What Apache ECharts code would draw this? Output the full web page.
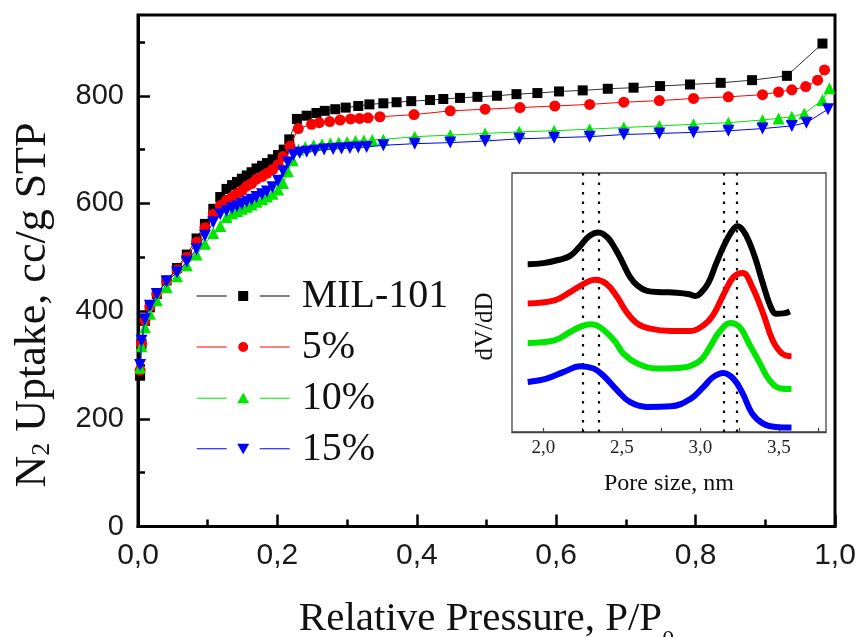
<!DOCTYPE html>
<html>
<head>
<meta charset="utf-8">
<script src="https://cdn.jsdelivr.net/npm/echarts@6/dist/echarts.min.js"></script>
<style>
html,body{margin:0;padding:0;background:#fff;}
#chart{width:858px;height:637px;}
</style>
</head>
<body>
<div id="chart"></div>
<script>
// ---------- Main isotherm data (P/P0 vs N2 uptake) ----------
const seriesNames = ['MIL-101', '5%', '10%', '15%'];

const pMIL = [0.003,0.005,0.010,0.017,0.027,0.041,0.056,0.070,0.084,0.096,0.108,0.118,0.127,0.135,0.142,0.149,0.156,0.163,0.170,0.178,0.185,0.193,0.201,0.209,0.217,0.228,0.242,0.256,0.268,0.283,0.298,0.316,0.332,0.352,0.371,0.392,0.419,0.438,0.462,0.487,0.515,0.543,0.573,0.604,0.638,0.674,0.711,0.749,0.792,0.836,0.881,0.931,0.982];
const uMIL = [280,339,382,407,432,457,480,505,535,562,590,612,627,634,640,646,652,658,665,670,675,682,690,700,719,757,763,768,772,775,778,781,784,786,788,790,792,794,796,798,800,803,805,808,810,813,815,818,821,824,829,837,897];

const p5 = [0.003,0.005,0.010,0.017,0.027,0.041,0.056,0.070,0.084,0.096,0.108,0.118,0.127,0.135,0.142,0.149,0.156,0.163,0.170,0.178,0.185,0.193,0.201,0.208,0.218,0.230,0.249,0.260,0.275,0.290,0.305,0.318,0.330,0.347,0.396,0.448,0.498,0.548,0.598,0.648,0.697,0.748,0.797,0.847,0.896,0.919,0.938,0.958,0.975,0.985];
const u5 = [290,340,383,408,432,456,477,500,528,555,580,596,606,612,618,624,632,637,645,650,656,663,672,687,706,739,747,750,752,755,757,758,759,761,765,772,775,778,781,784,788,791,795,798,802,807,811,817,829,848];

const p10 = [0.003,0.005,0.010,0.017,0.027,0.041,0.056,0.070,0.084,0.096,0.108,0.118,0.127,0.135,0.142,0.149,0.156,0.163,0.170,0.178,0.185,0.193,0.201,0.208,0.215,0.222,0.230,0.240,0.252,0.264,0.276,0.288,0.300,0.312,0.324,0.336,0.352,0.397,0.448,0.498,0.547,0.597,0.648,0.697,0.748,0.797,0.847,0.896,0.919,0.938,0.956,0.982,0.992];
const u10 = [295,335,370,395,420,445,465,485,505,525,545,558,575,582,586,590,594,598,603,608,613,618,626,638,660,680,700,705,708,710,712,713,714,716,717,718,719,724,727,730,733,735,738,741,744,747,750,755,758,761,767,792,814];

const p15 = [0.003,0.005,0.010,0.017,0.027,0.041,0.056,0.070,0.084,0.096,0.108,0.118,0.127,0.135,0.142,0.149,0.156,0.163,0.170,0.178,0.185,0.193,0.201,0.208,0.215,0.223,0.232,0.242,0.254,0.267,0.280,0.292,0.304,0.316,0.328,0.352,0.397,0.448,0.498,0.547,0.597,0.648,0.697,0.748,0.797,0.847,0.896,0.938,0.959,0.990];
const u15 = [300,345,385,410,432,455,472,492,515,540,565,580,586,591,595,599,603,607,612,617,622,630,642,660,676,690,694,696,698,700,701,702,703,704,705,708,711,713,716,720,722,724,728,730,732,735,739,744,750,775];

// ---------- Inset: pore size distribution (arbitrary offset units) ----------
const dMIL = [1.90,2.00,2.10,2.17,2.23,2.29,2.35,2.41,2.46,2.50,2.55,2.60,2.66,2.75,2.85,2.93,2.97,3.00,3.05,3.10,3.15,3.20,3.235,3.27,3.31,3.35,3.38,3.42,3.45,3.48,3.53,3.57];
const vMIL = [64.8,65.2,66.5,68,71.5,75.5,77,75,70.5,66,60,56.5,54.5,54,53.8,53.2,52.5,53.5,57.5,65,72,77.5,79.4,78,73.5,67,61,53,48,45.7,45.8,46.5];

const d5 = [1.90,2.07,2.17,2.26,2.33,2.40,2.47,2.53,2.60,2.68,2.81,2.94,3.02,3.08,3.15,3.21,3.27,3.33,3.40,3.46,3.52,3.58];
const v5 = [49.6,50.8,54,57.3,58.8,57.3,52.1,46.3,41.8,39.9,39,39,41.2,45,53.4,59.8,61.4,56,45.7,35.4,30.3,29.2];

const d10 = [1.90,2.07,2.17,2.23,2.30,2.36,2.45,2.51,2.60,2.72,2.89,3.00,3.06,3.12,3.19,3.25,3.31,3.38,3.44,3.51,3.58];
const v10 = [34.4,35.4,38.6,40.5,41.6,40.5,35.4,30.3,26.4,24.5,24.9,27.7,32.8,38.6,42.1,40.5,34.1,26.4,20,16.8,16.6];

const d15 = [1.90,2.02,2.13,2.235,2.32,2.38,2.47,2.55,2.66,2.81,2.94,3.02,3.08,3.146,3.21,3.27,3.33,3.40,3.48,3.58];
const v15 = [19.3,20.6,23.2,25.4,24.5,21.9,16.1,11.6,9.7,9.9,12.9,17.4,21.2,22.8,20.6,14.8,7.1,3.2,1.9,1.7];

const poreMarkers = [2.245, 2.35, 3.15, 3.235];

// ---------- Tick values ----------
const xMajorTicks = [0, 0.2, 0.4, 0.6, 0.8, 1.0];
const xMinorTicks = [0.1, 0.3, 0.5, 0.7, 0.9];
const yMajorTicks = [0, 200, 400, 600, 800];
const yMinorTicks = [100, 300, 500, 700, 900];
const insetLabelTicks = [2.0, 2.5, 3.0, 3.5];
const insetTicks = [2.0, 2.25, 2.5, 2.75, 3.0, 3.25, 3.5, 3.75];

const colors = ['#000000', '#ff0000', '#00e600', '#0000ff'];
const SERIF = '"Liberation Serif", "Times New Roman", serif';
const SANS = '"Liberation Sans", Arial, sans-serif';

const zip = (a, b) => a.map((x, i) => [x, b[i]]);
const comma1 = v => v.toFixed(1).replace('.', ',');

const downTri = 'path://M0,0 L12,0 L6,10.4 Z';
const legendIcons = [
  'path://M0,5.5H30V6.5H0Z M41.5,1H51.5V11H41.5Z M63,5.5H93V6.5H63Z',
  'path://M0,5.5H30V6.5H0Z M41.5,6A5,5,0,1,1,51.5,6A5,5,0,1,1,41.5,6Z M63,5.5H93V6.5H63Z',
  'path://M0,5.5H30V6.5H0Z M46.5,0.5L52.5,11L40.5,11Z M63,5.5H93V6.5H63Z',
  'path://M0,5.5H30V6.5H0Z M40.5,1L52.5,1L46.5,11.5Z M63,5.5H93V6.5H63Z'
];

const mainAxisLine = {show: true, lineStyle: {color: '#000', width: 3}};

const option = {
  animation: false,
  backgroundColor: '#ffffff',
  grid: [
    {left: 138, right: 23, top: 15, bottom: 110.5, show: true, borderColor: '#000', borderWidth: 3,
      backgroundColor: 'transparent', containLabel: false, outerBoundsMode: 'none'},
    {left: 512, right: 32, top: 173, bottom: 205, show: true, borderColor: '#444', borderWidth: 1.3,
      backgroundColor: '#fff', containLabel: false, outerBoundsMode: 'none'}
  ],
  legend: {
    orient: 'vertical',
    left: 196.7,
    top: 276,
    itemWidth: 93,
    itemHeight: 12,
    itemGap: 11,
    padding: 0,
    selectedMode: false,
    textStyle: {fontFamily: SERIF, fontSize: 40, lineHeight: 40, color: '#111', padding: [0, 0, 0, 7]},
    data: seriesNames.map((n, i) => ({name: n, icon: legendIcons[i]}))
  },
  xAxis: [
    {
      gridIndex: 0, type: 'value', min: 0, max: 1, position: 'bottom',
      name: 'Relative Pressure, P/P{s|0}', nameLocation: 'middle', nameGap: 72,
      nameTextStyle: {fontFamily: SERIF, fontSize: 41, lineHeight: 41, color: '#111',
        rich: {s: {fontFamily: SERIF, fontSize: 24, lineHeight: 12, verticalAlign: 'bottom', padding: [0, 0, -12, 0], color: '#111'}}},
      axisLine: mainAxisLine,
      axisTick: {show: true, inside: true, length: 12, customValues: xMajorTicks, lineStyle: {color: '#000', width: 2.5}},
      axisLabel: {show: true, customValues: xMajorTicks, formatter: comma1, fontFamily: SANS, fontSize: 30, color: '#1a1a1a', margin: 14},
      splitLine: {show: false}
    },
    {
      gridIndex: 0, type: 'value', min: 0, max: 1, position: 'bottom',
      axisLine: {show: false},
      axisTick: {show: true, inside: true, length: 7, customValues: xMinorTicks, lineStyle: {color: '#000', width: 2.5}},
      axisLabel: {show: false},
      splitLine: {show: false}
    },
    {
      gridIndex: 1, type: 'value', min: 1.8, max: 3.8, position: 'bottom',
      name: 'Pore size, nm', nameLocation: 'middle', nameGap: 40,
      nameTextStyle: {fontFamily: SERIF, fontSize: 24, color: '#111'},
      axisLine: {show: true, lineStyle: {color: '#444', width: 1.3}},
      axisTick: {show: true, inside: true, length: 4, customValues: insetTicks, lineStyle: {color: '#444', width: 1.2}},
      axisLabel: {show: true, customValues: insetLabelTicks, formatter: comma1, fontFamily: SERIF, fontSize: 19, color: '#222', margin: 7},
      splitLine: {show: false}
    }
  ],
  yAxis: [
    {
      gridIndex: 0, type: 'value', min: 0, max: 950, position: 'left',
      axisLine: mainAxisLine,
      axisTick: {show: true, inside: true, length: 12, customValues: yMajorTicks, lineStyle: {color: '#000', width: 2.5}},
      axisLabel: {show: true, customValues: yMajorTicks, fontFamily: SANS, fontSize: 29, color: '#1a1a1a', margin: 14},
      splitLine: {show: false}
    },
    {
      gridIndex: 0, type: 'value', min: 0, max: 950, position: 'left',
      axisLine: {show: false},
      axisTick: {show: true, inside: true, length: 7, customValues: yMinorTicks, lineStyle: {color: '#000', width: 2.5}},
      axisLabel: {show: false},
      splitLine: {show: false}
    },
    {
      gridIndex: 1, type: 'value', min: 0, max: 100,
      axisLine: {show: false}, axisTick: {show: false}, axisLabel: {show: false}, splitLine: {show: false}
    }
  ],
  graphic: [
    {
      type: 'text', x: 33, y: 305, rotation: Math.PI / 2, z: 10,
      style: {
        text: '{a|N}{s|2}{a| Uptake, cc/g STP}',
        align: 'center', verticalAlign: 'middle',
        rich: {
          a: {fontFamily: SERIF, fontSize: 44, lineHeight: 44, fill: '#111'},
          s: {fontFamily: SERIF, fontSize: 26, lineHeight: 14, verticalAlign: 'bottom', fill: '#111'}
        }
      }
    },
    {
      type: 'text', x: 485, y: 326.5, rotation: Math.PI / 2, z: 10,
      style: {text: 'dV/dD', align: 'center', verticalAlign: 'middle', fontFamily: SERIF, fontSize: 25, fill: '#111'}
    }
  ],
  series: [
    {name: seriesNames[0], type: 'line', xAxisIndex: 0, yAxisIndex: 0, data: zip(pMIL, uMIL),
      symbol: 'rect', symbolSize: 10, lineStyle: {width: 1, color: '#333'}, itemStyle: {color: colors[0]}, z: 2},
    {name: seriesNames[1], type: 'line', xAxisIndex: 0, yAxisIndex: 0, data: zip(p5, u5),
      symbol: 'circle', symbolSize: 11, lineStyle: {width: 1, color: colors[1]}, itemStyle: {color: colors[1]}, z: 3},
    {name: seriesNames[2], type: 'line', xAxisIndex: 0, yAxisIndex: 0, data: zip(p10, u10),
      symbol: 'triangle', symbolSize: 12, lineStyle: {width: 1, color: colors[2]}, itemStyle: {color: colors[2]}, z: 4},
    {name: seriesNames[3], type: 'line', xAxisIndex: 0, yAxisIndex: 0, data: zip(p15, u15),
      symbol: downTri, symbolSize: 12, lineStyle: {width: 1, color: colors[3]}, itemStyle: {color: colors[3]}, z: 5},

    {name: 'inset-MIL', type: 'line', xAxisIndex: 2, yAxisIndex: 2, data: zip(dMIL, vMIL), smooth: 0.4,
      showSymbol: false, symbol: 'none', lineStyle: {width: 6, color: colors[0]}, z: 6,
      markLine: {silent: true, symbol: ['none', 'none'], label: {show: false},
        lineStyle: {type: [2.5, 7], color: '#000', width: 2.2},
        data: poreMarkers.map(v => ({xAxis: v}))}},
    {name: 'inset-5', type: 'line', xAxisIndex: 2, yAxisIndex: 2, data: zip(d5, v5), smooth: 0.4,
      showSymbol: false, symbol: 'none', lineStyle: {width: 6, color: colors[1]}, z: 6},
    {name: 'inset-10', type: 'line', xAxisIndex: 2, yAxisIndex: 2, data: zip(d10, v10), smooth: 0.4,
      showSymbol: false, symbol: 'none', lineStyle: {width: 6, color: colors[2]}, z: 6},
    {name: 'inset-15', type: 'line', xAxisIndex: 2, yAxisIndex: 2, data: zip(d15, v15), smooth: 0.4,
      showSymbol: false, symbol: 'none', lineStyle: {width: 6, color: colors[3]}, z: 6}
  ]
};

const chart = echarts.init(document.getElementById('chart'), null, {renderer: 'canvas'});
chart.setOption(option);
</script>
</body>
</html>
